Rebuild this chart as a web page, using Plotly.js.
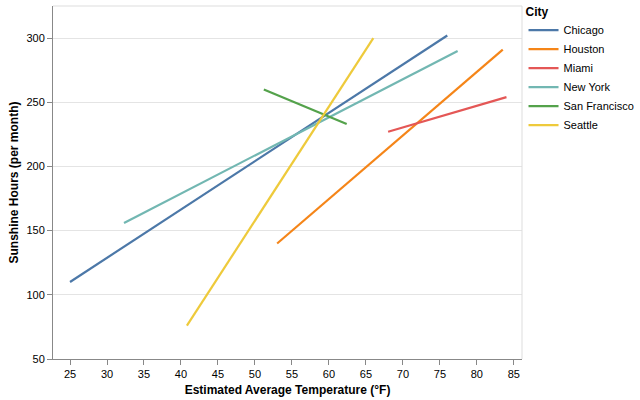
<!DOCTYPE html>
<html>
<head>
<meta charset="utf-8">
<script src="https://cdn.plot.ly/plotly-3.0.1.min.js"></script>
<style>html,body{margin:0;padding:0;background:#fff;}#chart{width:640px;height:400px;}</style>
</head>
<body>
<div id="chart"></div>
<script>
const cities = ["Chicago", "Houston", "Miami", "New York", "San Francisco", "Seattle"];
const colors = ["#4c78a8", "#f58518", "#e45756", "#72b7b2", "#54a24b", "#eeca3b"];
const tempChicago = [25, 76];
const sunChicago = [110, 302];
const tempHouston = [53, 83.5];
const sunHouston = [140, 291];
const tempMiami = [68, 84];
const sunMiami = [227, 254];
const tempNewYork = [32.3, 77.4];
const sunNewYork = [156, 290];
const tempSanFrancisco = [51.2, 62.4];
const sunSanFrancisco = [260, 233];
const tempSeattle = [40.8, 66];
const sunSeattle = [76, 300];
const xTicks = [25, 30, 35, 40, 45, 50, 55, 60, 65, 70, 75, 80, 85];
const yTicks = [50, 100, 150, 200, 250, 300];

const temps = [tempChicago, tempHouston, tempMiami, tempNewYork, tempSanFrancisco, tempSeattle];
const suns = [sunChicago, sunHouston, sunMiami, sunNewYork, sunSanFrancisco, sunSeattle];

const traces = cities.map((c, i) => ({
  type: "scatter", mode: "lines", name: c,
  x: temps[i], y: suns[i],
  line: {color: colors[i], width: 2.2}
}));

const font = "Liberation Sans, Arial, sans-serif";
const layout = {
  width: 640, height: 400,
  margin: {l: 53, r: 118, t: 6, b: 41, autoexpand: false},
  paper_bgcolor: "#fff", plot_bgcolor: "#fff",
  font: {family: font, size: 11, color: "#000"},
  showlegend: true,
  legend: {
    xref: "container", yref: "container",
    x: 0.818, xanchor: "left", y: 1.005, yanchor: "top",
    bgcolor: "rgba(0,0,0,0)",
    title: {text: "<b>City</b>", font: {size: 12, family: font, color: "#000"}},
    font: {size: 11, family: font, color: "#000"},
    itemwidth: 30, tracegroupgap: 0
  },
  xaxis: {
    range: [22.7, 86.1], tickvals: xTicks, ticktext: xTicks.map(String),
    showgrid: false, zeroline: false,
    showline: true, linecolor: "#888", linewidth: 1,
    ticks: "outside", ticklen: 5, tickcolor: "#888",
    tickfont: {size: 11, family: font, color: "#000"},
    title: {text: "<b>Estimated Average Temperature (°F)</b>", font: {size: 12, family: font, color: "#000"}, standoff: 6}
  },
  yaxis: {
    range: [50, 325], tickvals: yTicks, ticktext: yTicks.map(String),
    showgrid: true, gridcolor: "#e4e4e4", zeroline: false,
    showline: true, linecolor: "#888", linewidth: 1,
    ticks: "outside", ticklen: 5, tickcolor: "#888",
    tickfont: {size: 11, family: font, color: "#000"},
    title: {text: "<b>Sunshine Hours (per month)</b>", font: {size: 12, family: font, color: "#000"}, standoff: 5}
  },
  shapes: [
    {type: "line", xref: "paper", yref: "paper", x0: 0, x1: 1, y0: 1, y1: 1, line: {color: "#ddd", width: 1}},
    {type: "line", xref: "paper", yref: "paper", x0: 1, x1: 1, y0: 0, y1: 1, line: {color: "#ddd", width: 1}}
  ]
};

Plotly.newPlot("chart", traces, layout, {displayModeBar: false, staticPlot: true});
</script>
</body>
</html>
